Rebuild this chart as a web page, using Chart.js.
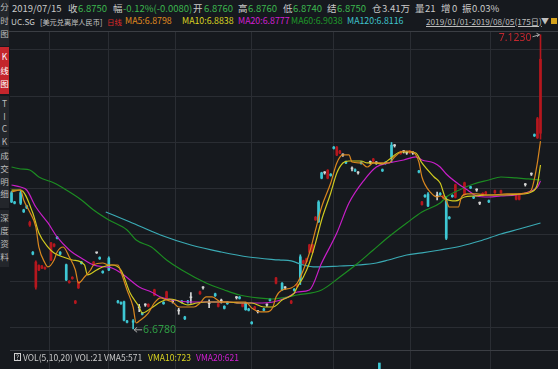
<!DOCTYPE html>
<html><head><meta charset="utf-8">
<script src="https://cdn.jsdelivr.net/npm/chart.js@4.4.1/dist/chart.umd.min.js"></script>
<style>
html,body{margin:0;padding:0;background:#16191e;width:558px;height:369px;overflow:hidden;font-family:"Noto Sans CJK SC","Noto Sans",sans-serif;}
#wrap{position:relative;width:558px;height:369px;}
.t{position:absolute;white-space:nowrap;font-size:9.5px;line-height:12px;color:#c9c9c9;}
.r2{font-size:8.8px;top:15px;}
.g{color:#3cb64e;}
.side{position:absolute;left:0;width:9px;background:#23262b;color:#bdbdbd;font-size:8.5px;line-height:13.5px;text-align:center;overflow:hidden;box-sizing:border-box;}
#cv{position:absolute;left:10px;top:32px;}
#sep{position:absolute;left:9px;top:31px;width:549px;height:1px;background:#3b3e44;}
</style></head>
<body><div id="wrap">
<div class="side" style="top:0;height:46px;padding-top:0">分<br>时<br>图</div>
<div class="side" style="top:47px;height:47px;background:#c4262c;color:#fff;padding-top:3px">K<br>线<br>图</div>
<div class="side" style="top:96px;height:51px;padding-top:1px;line-height:12.5px">T<br>I<br>C<br>K</div>
<div class="side" style="top:149px;height:59px;padding-top:0px;line-height:12.8px">成<br>交<br>明<br>细</div>
<div class="side" style="top:210px;height:57px;padding-top:1px;line-height:13px">深<br>度<br>资<br>料</div>

<span class="t" style="left:12px;top:2px">2019/07/15</span>
<span class="t" style="left:68px;top:2px">收</span><span class="t g" style="left:78px;top:2px">6.8750</span>
<span class="t" style="left:113px;top:2px">幅</span><span class="t g" style="left:123px;top:2px">-0.12%(-0.0080)</span>
<span class="t" style="left:193px;top:2px">开</span><span class="t g" style="left:204px;top:2px">6.8760</span>
<span class="t" style="left:238px;top:2px">高</span><span class="t g" style="left:248px;top:2px">6.8760</span>
<span class="t" style="left:283px;top:2px">低</span><span class="t g" style="left:293px;top:2px">6.8740</span>
<span class="t" style="left:327px;top:2px">结</span><span class="t g" style="left:337px;top:2px">6.8750</span>
<span class="t" style="left:372px;top:2px">仓</span><span class="t" style="left:382px;top:2px">3.41万</span>
<span class="t" style="left:415px;top:2px">量</span><span class="t" style="left:425px;top:2px">21</span>
<span class="t" style="left:441px;top:2px">增</span><span class="t" style="left:452px;top:2px">0</span>
<span class="t" style="left:462px;top:2px">振</span><span class="t" style="left:472px;top:2px">0.03%</span>

<span class="t r2" style="left:11px;font-size:8.2px">UC.SG</span>
<span class="t r2" style="left:40px;font-size:7.2px;top:16px">[美元兑离岸人民币]</span>
<span class="t r2" style="left:107px;color:#e02a2a;font-size:7.4px;top:16px">日线</span>
<span class="t r2" style="left:125px;color:#e08c1e">MA5:6.8798</span>
<span class="t r2" style="left:182px;color:#d9d321">MA10:6.8838</span>
<span class="t r2" style="left:238px;color:#d21fd2">MA20:6.8777</span>
<span class="t r2" style="left:291px;color:#1f9a2a">MA60:6.9038</span>
<span class="t r2" style="left:347px;color:#3fc3cc">MA120:6.8116</span>
<span class="t r2" style="left:426px;font-size:8.2px;text-decoration:underline;color:#bfbfbf">2019/01/01-2019/08/05(175日)</span>
<span class="t" style="left:541px;top:15px;font-size:8px;color:#bfbfbf">▼</span>
<span style="position:absolute;left:551px;top:18px;width:6px;height:6px;background:#d4a21c"></span>
<div id="sep"></div>
<canvas id="cv" width="548" height="337"></canvas>
<span style="position:absolute;left:14px;top:353px;width:5px;height:6px;border:1px solid #cfcfcf;font-size:7px;line-height:6px;color:#cfcfcf;text-align:center">?</span>
<span class="t" style="left:23px;top:351px;font-size:8.5px">VOL(5,10,20) VOL:21</span>
<span class="t" style="left:104px;top:351px;font-size:8.5px">VMA5:571</span>
<span class="t" style="left:148px;top:351px;font-size:8.5px;color:#d9d321">VMA10:723</span>
<span class="t" style="left:196px;top:351px;font-size:8.5px;color:#d21fd2">VMA20:621</span>
</div>
<script>
// ---- data (index = trading-day slot, prices in CNH per USD) ----
const ohlc = [ // [day, open, high, low, close]
[0,6.884,6.886,6.869,6.870],[1,6.870,6.871,6.867,6.868],[3,6.884,6.887,6.866,6.868],[4,6.858,6.859,6.854,6.855],
[5,6.864,6.865,6.860,6.861],[6,6.835,6.841,6.833,6.839],[7,6.794,6.795,6.790,6.791],[8,6.741,6.781,6.738,6.779],
[9,6.767,6.775,6.766,6.774],[10,6.770,6.774,6.769,6.773],[11,6.769,6.772,6.768,6.771],[13,6.782,6.809,6.781,6.808],
[14,6.803,6.807,6.802,6.806],[15,6.817,6.818,6.814,6.815],[16,6.794,6.795,6.790,6.791],[18,6.775,6.776,6.751,6.752],
[19,6.748,6.751,6.747,6.750],[20,6.754,6.757,6.753,6.756],[21,6.717,6.721,6.716,6.720],[22,6.740,6.750,6.739,6.749],
[23,6.779,6.780,6.776,6.777],[27,6.776,6.780,6.775,6.779],[28,6.793,6.794,6.792,6.793],[29,6.786,6.787,6.783,6.784],
[30,6.765,6.766,6.762,6.763],[32,6.785,6.787,6.766,6.767],[35,6.720,6.721,6.717,6.718],[36,6.718,6.719,6.715,6.716],
[37,6.719,6.720,6.690,6.691],[38,6.690,6.691,6.687,6.688],[40,6.690,6.692,6.678,6.688],[42,6.710,6.715,6.704,6.710],
[43,6.702,6.703,6.699,6.700],[44,6.714,6.716,6.712,6.714],[45,6.712,6.716,6.711,6.715],[47,6.729,6.738,6.728,6.737],
[50,6.718,6.719,6.715,6.716],[51,6.725,6.735,6.724,6.734],[53,6.719,6.721,6.717,6.719],[55,6.705,6.709,6.700,6.705],
[56,6.720,6.721,6.717,6.718],[57,6.696,6.697,6.692,6.693],[58,6.720,6.721,6.717,6.718],[59,6.725,6.733,6.717,6.725],
[62,6.731,6.735,6.730,6.734],[63,6.740,6.742,6.738,6.740],[65,6.716,6.722,6.710,6.716],[67,6.731,6.732,6.727,6.728],
[68,6.712,6.717,6.711,6.716],[69,6.720,6.723,6.717,6.720],[70,6.712,6.713,6.708,6.709],[71,6.718,6.719,6.715,6.716],
[74,6.725,6.727,6.723,6.725],[75,6.726,6.727,6.723,6.724],[76,6.712,6.716,6.711,6.715],[77,6.717,6.718,6.706,6.707],
[78,6.708,6.709,6.705,6.706],[79,6.688,6.689,6.685,6.686],[80,6.708,6.712,6.707,6.711],[81,6.704,6.706,6.702,6.704],
[83,6.708,6.709,6.705,6.706],[84,6.714,6.716,6.712,6.714],[85,6.723,6.724,6.720,6.721],[87,6.747,6.756,6.746,6.755],
[89,6.747,6.748,6.736,6.737],[90,6.740,6.742,6.738,6.740],[92,6.717,6.721,6.716,6.720],[93,6.738,6.739,6.735,6.736],
[94,6.742,6.746,6.741,6.745],[95,6.787,6.790,6.745,6.752],[96,6.777,6.782,6.776,6.781],[97,6.780,6.785,6.779,6.784],
[98,6.794,6.806,6.793,6.805],[99,6.794,6.806,6.793,6.805],[100,6.843,6.848,6.842,6.847],[101,6.870,6.872,6.839,6.840],
[102,6.914,6.915,6.905,6.906],[103,6.914,6.916,6.912,6.914],[104,6.906,6.919,6.905,6.918],[105,6.912,6.913,6.909,6.910],
[106,6.953,6.954,6.950,6.951],[107,6.941,6.954,6.940,6.953],[108,6.944,6.948,6.943,6.947],[109,6.941,6.943,6.939,6.941],
[110,6.931,6.932,6.928,6.929],[112,6.920,6.923,6.917,6.920],[113,6.919,6.920,6.916,6.917],[114,6.914,6.916,6.912,6.914],
[115,6.930,6.931,6.927,6.928],[118,6.930,6.932,6.928,6.930],[119,6.932,6.936,6.931,6.935],[120,6.929,6.931,6.927,6.929],
[122,6.919,6.920,6.916,6.917],[123,6.930,6.931,6.927,6.928],[125,6.956,6.960,6.930,6.938],[126,6.955,6.957,6.953,6.955],
[128,6.943,6.947,6.942,6.946],[129,6.946,6.948,6.944,6.946],[130,6.944,6.946,6.942,6.944],[131,6.944,6.948,6.943,6.947],
[132,6.944,6.946,6.942,6.944],[134,6.917,6.918,6.914,6.915],[135,6.866,6.871,6.865,6.870],[136,6.880,6.881,6.877,6.878],
[137,6.882,6.884,6.863,6.864],[140,6.879,6.885,6.873,6.879],[141,6.883,6.884,6.880,6.881],[142,6.876,6.880,6.875,6.879],
[143,6.872,6.878,6.813,6.815],[144,6.847,6.848,6.844,6.845],[145,6.880,6.881,6.877,6.878],[146,6.877,6.897,6.876,6.896],
[149,6.881,6.900,6.880,6.899],[151,6.893,6.894,6.890,6.891],[152,6.878,6.879,6.875,6.876],[153,6.888,6.890,6.886,6.888],
[154,6.868,6.870,6.866,6.868],[155,6.880,6.884,6.879,6.883],[156,6.882,6.886,6.881,6.885],[157,6.872,6.873,6.869,6.870],
[159,6.884,6.888,6.883,6.887],[161,6.884,6.888,6.883,6.887],[166,6.874,6.881,6.873,6.880],[167,6.874,6.883,6.873,6.882],
[169,6.896,6.898,6.894,6.896],[171,6.912,6.914,6.910,6.912],[172,6.972,6.973,6.969,6.970],[173,6.967,6.998,6.966,6.996],
[174,6.974,7.123,6.965,7.086]
];
const ma5 = [[0,6.8851],[3,6.8881],[4,6.8730],[6,6.8548],[8,6.8321],[9,6.8018],[11,6.7776],[12,6.7716],[14,6.7822],[15,6.7943],
[17,6.8018],[19,6.7867],[21,6.7670],[22,6.7474],[24,6.7564],[26,6.7670],[27,6.7746],[30,6.7776],[32,6.7746],[35,6.7746],
[36,6.7640],[38,6.7368],[40,6.7110],[41,6.6868],[42,6.6898],[45,6.7019],[47,6.7171],[49,6.7247],[51,6.7216],[53,6.7186],
[55,6.7110],[58,6.7110],[60,6.7110],[62,6.7171],[64,6.7262],[66,6.7262],[69,6.7186],[73,6.7186],[77,6.7186],[79,6.7095],
[82,6.7035],[84,6.7035],[86,6.7110],[87,6.7262],[89,6.7368],[92,6.7398],[94,6.7474],[96,6.7670],[98,6.7928],[100,6.8276],
[102,6.8624],[105,6.8987],[107,6.9290],[109,6.9411],[111,6.9411],[112,6.9305],[115,6.9290],[117,6.9229],[119,6.9290],[124,6.9290],
[126,6.9381],[128,6.9456],[130,6.9471],[132,6.9456],[134,6.9305],[135,6.9078],[138,6.8836],[140,6.8775],[141,6.8790],[143,6.8715],
[144,6.8624],[147,6.8624],[148,6.8775],[150,6.8821],[153,6.8821],[157,6.8805],[163,6.8821],[167,6.8821],[169,6.8836],[171,6.8881],
[172,6.9050],[173,6.9300],[174,6.9620]];
const ma10 = [[0,6.8880],[3,6.8881],[7,6.8533],[9,6.8230],[12,6.8018],[14,6.7928],[17,6.7867],[20,6.7822],[24,6.7746],[25,6.7595],
[28,6.7670],[30,6.7716],[33,6.7746],[36,6.7670],[39,6.7322],[42,6.7110],[43,6.7019],[46,6.7095],[49,6.7186],[52,6.7231],
[54,6.7216],[58,6.7141],[61,6.7171],[64,6.7186],[68,6.7186],[71,6.7186],[75,6.7171],[79,6.7171],[83,6.7110],[86,6.7110],
[89,6.7216],[93,6.7322],[94,6.7413],[96,6.7564],[98,6.7776],[100,6.8079],[102,6.8427],[105,6.8836],[107,6.9138],[109,6.9290],
[111,6.9320],[115,6.9320],[117,6.9290],[119,6.9290],[122,6.9275],[124,6.9335],[128,6.9456],[131,6.9456],[133,6.9441],[135,6.9290],
[139,6.9078],[141,6.8987],[143,6.8745],[146,6.8715],[149,6.8775],[152,6.8790],[157,6.8805],[162,6.8805],[168,6.8821],[171,6.8851],
[173,6.8972],[174,6.9259]];
const ma20 = [[0,6.8957],[3,6.8926],[5,6.8881],[8,6.8624],[12,6.8382],[15,6.8170],[19,6.7973],[24,6.7822],[27,6.7746],[31,6.7716],
[33,6.7701],[36,6.7625],[39,6.7519],[42,6.7413],[46,6.7337],[49,6.7262],[53,6.7216],[59,6.7186],[64,6.7186],[71,6.7186],
[75,6.7171],[81,6.7171],[86,6.7186],[91,6.7262],[94,6.7337],[98,6.7368],[102,6.7776],[107,6.8230],[111,6.8684],[116,6.9032],
[120,6.9229],[124,6.9290],[129,6.9335],[133,6.9381],[135,6.9335],[139,6.9290],[141,6.9229],[143,6.9123],[147,6.8972],[150,6.8881],
[153,6.8790],[157,6.8775],[161,6.8790],[166,6.8805],[170,6.8851],[173,6.8926],[174,6.9017]];
const ma60 = [[0,6.9229],[3,6.9199],[6,6.9184],[9,6.9078],[14,6.8987],[18,6.8881],[23,6.8730],[27,6.8578],[32,6.8427],[38,6.8276],
[41,6.8124],[46,6.8018],[51,6.7822],[56,6.7670],[64,6.7474],[70,6.7368],[75,6.7292],[81,6.7247],[86,6.7231],[89,6.7247],
[94,6.7292],[102,6.7368],[108,6.7564],[114,6.7776],[119,6.7973],[124,6.8170],[130,6.8382],[135,6.8548],[141,6.8684],[143,6.8775],
[148,6.8896],[152,6.8972],[157,6.9032],[161,6.9078],[166,6.9063],[170,6.9048],[174,6.9032]];
const ma120 = [[31,6.8548],[39,6.8397],[49,6.8200],[59,6.8049],[69,6.7943],[78,6.7867],[88,6.7822],[92,6.7807],[96,6.7746],[100,6.7716],
[108,6.7731],[114,6.7746],[120,6.7776],[124,6.7822],[130,6.7897],[135,6.7928],[141,6.7973],[148,6.8033],[154,6.8109],[161,6.8215],
[167,6.8291],[174,6.8382]];
const volume = [[121,1900]];
const monthTicks = [22.2,41.9,65.9,92.3,119.2,143.6,171.2];
const priceTicks = [6.68,6.75,6.82,6.89,6.96,7.03,7.10];

// ---- drawing ----
const BG='#16191e', GRID='#2a2d33', UP='#b5171e', DOWN='#3ec7d3', FLAT='#d4d4d4';
const colOf = r => r[4]>r[1]?UP:(r[4]<r[1]?DOWN:FLAT);
const pts = arr => arr.map(p=>({x:p[0],y:p[1]}));
const line = (label,arr,color)=>({type:'line',label,data:pts(arr),borderColor:color,borderWidth:1.2,pointRadius:0,
  cubicInterpolationMode:'monotone',order:0,yAxisID:'y'});

const markers = {
  id:'markers',
  beforeDraw(c){const {ctx}=c;ctx.save();ctx.fillStyle=BG;ctx.fillRect(0,0,c.width,c.height);ctx.restore();},
  afterDatasetsDraw(c){
    const {ctx,scales:{x,y},chartArea:ca}=c;
    ctx.save();
    ctx.strokeStyle='#3b3e44';ctx.lineWidth=1;
    const yb=Math.round(ca.top+ca.height*318/337)+0.5; // price / volume panel divider
    ctx.beginPath();ctx.moveTo(0,yb);ctx.lineTo(c.width,yb);ctx.stroke();
    let hi=ohlc[0],lo=ohlc[0];
    ohlc.forEach(r=>{if(r[2]>hi[2])hi=r;if(r[3]<lo[3])lo=r;});
    ctx.font='10.5px "Noto Sans","DejaVu Sans",sans-serif';ctx.textBaseline='middle';
    let hx=x.getPixelForValue(hi[0]), hy=y.getPixelForValue(hi[2]);
    ctx.strokeStyle='#a8a8a8';ctx.beginPath();ctx.moveTo(hx-8,hy+2);ctx.lineTo(hx-1,hy);ctx.stroke();
    ctx.beginPath();ctx.moveTo(hx-4,hy-1.5);ctx.lineTo(hx-1,hy);ctx.lineTo(hx-3.5,hy+2);ctx.stroke();
    ctx.fillStyle='#c2282e';ctx.textAlign='right';ctx.fillText(hi[2].toFixed(4),hx-9,hy+3);
    let lx=x.getPixelForValue(lo[0]), ly=y.getPixelForValue(lo[3]);
    ctx.strokeStyle='#a8a8a8';ctx.beginPath();ctx.moveTo(lx+1,ly+1);ctx.lineTo(lx+9,ly+1);ctx.stroke();
    ctx.beginPath();ctx.moveTo(lx+4,ly-1.5);ctx.lineTo(lx+1,ly+1);ctx.lineTo(lx+4,ly+3.5);ctx.stroke();
    ctx.fillStyle='#2f9e44';ctx.textAlign='left';ctx.fillText(lo[3].toFixed(4),lx+10,ly+1.5);
    ctx.restore();
  }
};

new Chart(document.getElementById('cv'),{
  type:'bar',
  data:{datasets:[
    line('MA5',ma5,'#d8861f'),
    line('MA10',ma10,'#cfc91f'),
    line('MA20',ma20,'#c81ec8'),
    line('MA60',ma60,'#1c8c22'),
    line('MA120',ma120,'#3aaab4'),
    {label:'body',data:ohlc.map(r=>({x:r[0],y:[r[1],r[4]]})),backgroundColor:ohlc.map(colOf),
      barThickness:2,minBarLength:1,grouped:false,order:1,yAxisID:'y'},
    {label:'wick',data:ohlc.map(r=>({x:r[0],y:[r[3],r[2]]})),backgroundColor:ohlc.map(colOf),
      barThickness:1,grouped:false,order:2,yAxisID:'y'},
    {label:'vol',data:volume.map(v=>({x:v[0],y:v[1]})),backgroundColor:DOWN,barThickness:2,grouped:false,order:3,yAxisID:'yv'}
  ]},
  options:{
    responsive:false,animation:false,
    layout:{padding:0},
    plugins:{legend:{display:false},tooltip:{enabled:false}},
    scales:{
      x:{type:'linear',min:-0.5,max:179.76,offset:false,
        grid:{color:GRID,drawTicks:false},border:{display:false},ticks:{display:false},
        afterBuildTicks:s=>{s.ticks=monthTicks.map(v=>({value:v}));}},
      y:{type:'linear',position:'left',min:6.6172,max:7.1272,
        grid:{color:GRID,drawTicks:false},border:{display:false},ticks:{display:false},
        afterBuildTicks:s=>{s.ticks=priceTicks.map(v=>({value:v}));}},
      yv:{type:'linear',position:'right',min:0,max:106700,
        grid:{display:false,drawTicks:false},border:{display:false},ticks:{display:false}}
    }
  },
  plugins:[markers]
});
</script>
</body></html>
